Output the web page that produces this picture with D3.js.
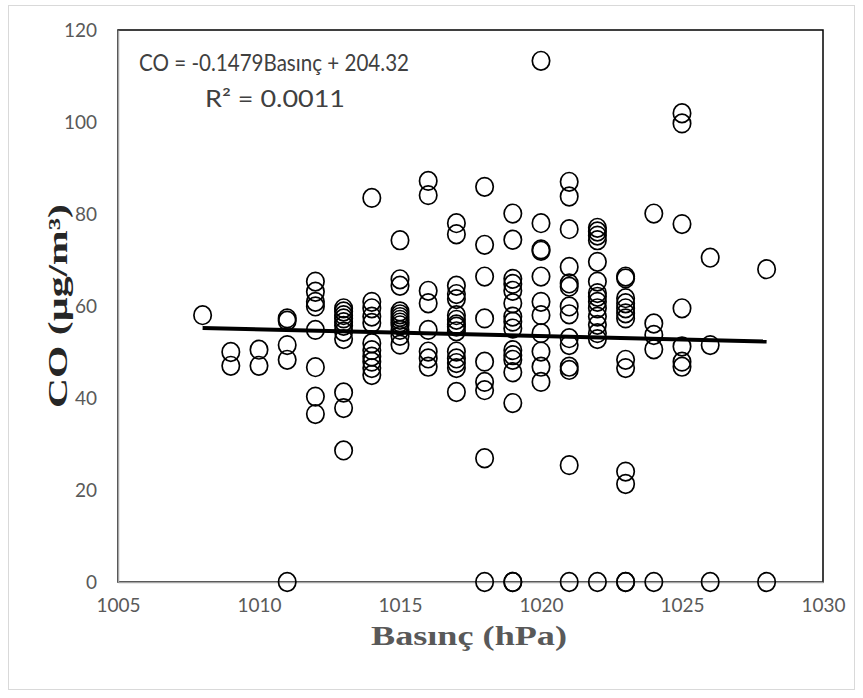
<!DOCTYPE html>
<html>
<head>
<meta charset="utf-8">
<script src="https://cdn.jsdelivr.net/npm/d3@7/dist/d3.min.js"></script>
<style>
  body { margin: 0; background: #fff; }
  .tick-label { font-family: Lato, 'Open Sans', sans-serif; font-size: 19px; fill: #595959; }
  .axis-title { font-family: 'Liberation Serif', 'Times New Roman', serif; font-weight: bold; }
  .eq { font-family: Lato, 'Open Sans', sans-serif; font-size: 24px; fill: #404040; }
</style>
</head>
<body>
<div class="chart"></div>
<script>
// pressure columns (hPa) and CO readings at each one
var pressureLevels = [1008, 1009, 1010, 1011, 1012, 1013, 1014, 1015, 1016, 1017,
                      1018, 1019, 1020, 1021, 1022, 1023, 1024, 1025, 1026, 1028];
var coByPressure = [
    [58],
    [50, 47],
    [50.5, 47],
    [57.3, 56.8, 51.5, 48.3, 0],
    [65.3, 63.1, 60.9, 59.9, 54.8, 46.7, 40.3, 36.5],
    [59.5, 58.8, 58, 57.3, 56.5, 55.7, 54.4, 52.8, 41.2, 37.8, 28.6],
    [83.5, 60.9, 59.5, 57.7, 56.3, 51.9, 50.4, 49, 47.9, 46.5, 45],
    [74.3, 65.8, 64.4, 58.8, 58.2, 57.6, 57, 56.4, 55.8, 54.8, 53.5, 51.6],
    [87.2, 84.1, 63.3, 60.6, 54.8, 50.1, 48.6, 46.8],
    [78, 75.6, 64.4, 62.6, 61.5, 58, 57, 56, 55.5, 54.5, 50.1, 48.6, 47.6, 46.5, 41.3],
    [85.9, 73.3, 66.4, 57.3, 47.9, 43.5, 41.7, 26.9, 0],
    [80.1, 74.4, 65.9, 64.8, 63.3, 60.6, 57.7, 56.6, 55.1, 50.4, 49.3, 48.3, 45.6, 38.9, 0, 0],
    [113.3, 78, 72.3, 72, 66.4, 60.9, 58, 54.1, 50.1, 46.8, 43.5],
    [87, 83.8, 76.7, 68.5, 64.9, 64.2, 59.9, 58.2, 53, 51.5, 46.8, 46.1, 25.4, 0],
    [77, 76.2, 75.3, 74.3, 69.6, 65.3, 62.8, 62, 60.9, 59.5, 57.7, 55.9, 54.1, 52.8, 0],
    [66.4, 66, 61.7, 60.6, 59.5, 58.4, 57.3, 48.3, 46.5, 24, 21.3, 0, 0],
    [80.1, 56.2, 53.7, 50.6, 0],
    [101.9, 99.7, 77.8, 59.5, 51.2, 47.9, 46.8],
    [70.5, 51.5, 0],
    [68, 0]
];

var xTicks = [1005, 1010, 1015, 1020, 1025, 1030];
var yTicks = [0, 20, 40, 60, 80, 100, 120];

// linear trend as printed on the chart
var trendSlope = -0.1479;
var trendIntercept = 204.32;
var trendRange = [1008, 1028];
var eqLine1 = "CO = -0.1479Basınç + 204.32";
var eqLine2 = "R² = 0.0011";

var width = 863, height = 698;
var plot = {left: 118, right: 823, top: 30, bottom: 582};

var svg = d3.select(".chart").append("svg").attr("width", width).attr("height", height);

// outer chart border
svg.append("rect").attr("x", 8.5).attr("y", 5.5).attr("width", 846).attr("height", 684)
    .attr("fill", "#fff").attr("stroke", "#d9d9d9").attr("stroke-width", 1);

var x = d3.scaleLinear().domain([1005, 1030]).range([plot.left, plot.right]);
var y = d3.scaleLinear().domain([0, 120]).range([plot.bottom, plot.top]);

// plot frame (black), axis lines on left/bottom are grey
svg.append("rect").attr("x", plot.left).attr("y", plot.top)
    .attr("width", plot.right - plot.left).attr("height", plot.bottom - plot.top)
    .attr("fill", "none").attr("stroke", "#000").attr("stroke-width", 1.5);

var xAxis = svg.append("g").attr("transform", "translate(0," + plot.bottom + ")")
    .call(d3.axisBottom(x).tickValues(xTicks).tickSize(0).tickPadding(17).tickFormat(d3.format("d")));
var yAxis = svg.append("g").attr("transform", "translate(" + plot.left + ",0)")
    .call(d3.axisLeft(y).tickValues(yTicks).tickSize(0).tickPadding(21));
[xAxis, yAxis].forEach(function (g) {
    g.select(".domain").attr("stroke", "#a6a6a6").attr("stroke-width", 1.5);
    g.selectAll("text").attr("class", "tick-label").attr("fill", null);
});
xAxis.selectAll("text").attr("dy", "0.71em");

// points
var points = [];
pressureLevels.forEach(function (p, i) {
    coByPressure[i].forEach(function (v) { points.push({p: p, v: v}); });
});
svg.append("g").selectAll("ellipse").data(points).enter().append("ellipse")
    .attr("cx", function (d) { return x(d.p); })
    .attr("cy", function (d) { return y(d.v); })
    .attr("rx", 8.7).attr("ry", 9.3)
    .attr("fill", "none").attr("stroke", "#000").attr("stroke-width", 1.7);

// trend line
var trend = trendRange.map(function (p) { return {p: p, v: trendSlope * p + trendIntercept}; });
svg.append("path").datum(trend)
    .attr("d", d3.line().x(function (d) { return x(d.p); }).y(function (d) { return y(d.v); }))
    .attr("stroke", "#000").attr("stroke-width", 4).attr("fill", "none");

// equation text
svg.append("text").attr("class", "eq").attr("x", 139).attr("y", 71)
    .attr("textLength", 270).attr("lengthAdjust", "spacingAndGlyphs").text(eqLine1);
svg.append("text").attr("class", "eq").attr("x", 205).attr("y", 107)
    .attr("textLength", 140).attr("lengthAdjust", "spacingAndGlyphs").text(eqLine2);

// axis titles
svg.append("text").attr("class", "axis-title").attr("x", 469).attr("y", 645)
    .attr("text-anchor", "middle").attr("font-size", 27).attr("fill", "#595959")
    .attr("textLength", 196).attr("lengthAdjust", "spacingAndGlyphs")
    .text("Basınç (hPa)");
svg.append("text").attr("class", "axis-title")
    .attr("transform", "translate(67," + 306 + ") rotate(-90)")
    .attr("text-anchor", "middle").attr("font-size", 27).attr("fill", "#262626")
    .attr("textLength", 204).attr("lengthAdjust", "spacingAndGlyphs")
    .text("CO (µg/m³)");
</script>
</body>
</html>
